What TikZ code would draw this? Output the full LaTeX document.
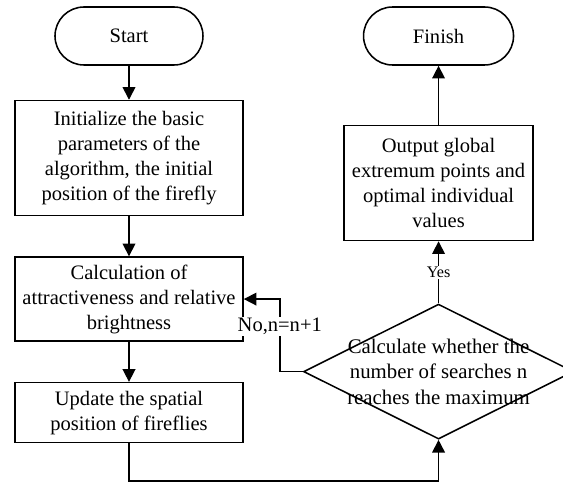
\documentclass[tikz,border=0pt]{standalone}
\usepackage{fontspec}
\setmainfont{Liberation Serif}
\usetikzlibrary{arrows.meta, shapes.geometric, positioning}

\begin{document}
\begin{tikzpicture}[
    terminal/.style={
        rectangle, draw, line width=1.1pt, rounded corners=0.725cm,
        minimum width=3.7cm, minimum height=1.45cm,
        font=\fontsize{14.6}{17.8}\selectfont
    },
    box/.style={
        rectangle, draw, line width=1.1pt,
        text centered, align=center, inner sep=0pt,
        minimum width=5.7cm,
        font=\fontsize{14.6}{17.8}\selectfont
    },
    decision/.style={
        diamond, draw, line width=1.1pt, inner sep=0pt,
        minimum width=6.75cm, minimum height=3.375cm
    },
    arrow/.style={-{Triangle[length=9pt, width=9pt]}, line width=1.1pt},
    tag/.style={fill=white, inner sep=1pt}
]

%% ─── FRAME ───────────────────────────────────────────────────
\fill[white] (-3.225,0.9) rectangle (10.85,-11.2);
\useasboundingbox (-3.225,0.9) rectangle (10.85,-11.2);
\clip (-3.225,0.9) rectangle (10.85,-11.2);

%% ─── LEFT COLUMN ─────────────────────────────────────────────
\node[terminal] (start) at (0,0) {Start};

\node[box, minimum height=2.875cm, below=0.85cm of start] (init) {
    Initialize the basic\\
    parameters of the\\
    algorithm, the initial\\
    position of the firefly
};

\node[box, minimum height=2.1cm, below=1.0cm of init] (calc) {
    Calculation of\\
    attractiveness and relative\\
    brightness
};

\node[box, minimum height=1.5cm, below=1.0cm of calc] (upd) {
    Update the spatial\\
    position of fireflies
};

\coordinate (loop) at (0,-11.12);

%% ─── RIGHT COLUMN ────────────────────────────────────────────
\node[terminal, minimum width=3.75cm, right=3.975cm of start] (finish) {Finish};

\node[box, minimum width=4.725cm, minimum height=2.875cm,
      below=1.475cm of finish] (out) {
    Output global\\
    extremum points and\\
    optimal individual\\
    values
};

\node[decision, below=1.55cm of out,
      label={[font=\fontsize{14.8}{18}\selectfont, align=center]center:
          Calculate whether the\\ number of searches n\\ reaches the maximum}
     ] (check) {};

%% ─── ARROWS ──────────────────────────────────────────────────
\draw[arrow] (start) -- (init);
\draw[arrow] (init)  -- (calc);
\draw[arrow] (calc)  -- (upd);

% Update → Check (bottom loop)
\draw[arrow] (upd.south) -- (upd.south |- loop) -| (check.south);

% Check → Output (yes)
\draw[arrow] (check.north) -- node[tag, font=\fontsize{11.5}{13}\selectfont]{Yes} (out.south);

% Check → Calc (no, next search)
\draw[arrow] (check.west) -- ++(-0.575,0)
    |- node[tag, font=\fontsize{14.6}{17.8}\selectfont, pos=0.31]{No,n=n+1}
    (calc.east);

\draw[arrow] (out) -- (finish);

\end{tikzpicture}
\end{document}
